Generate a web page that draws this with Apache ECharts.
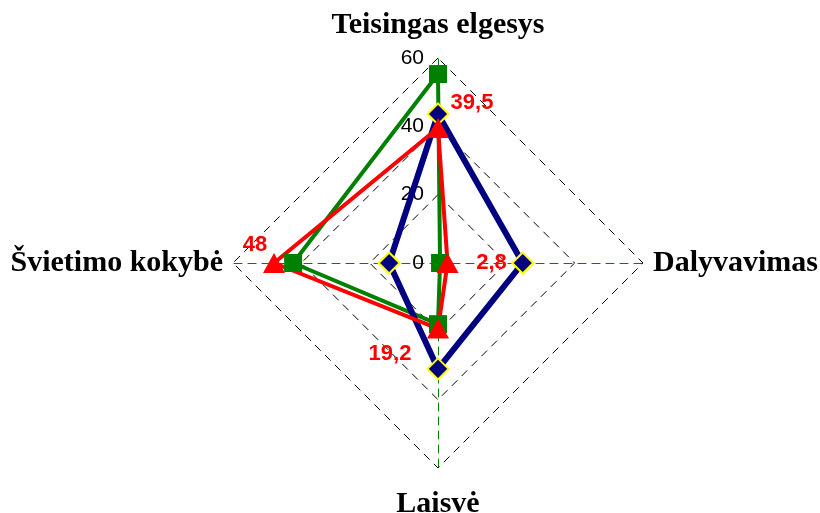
<!DOCTYPE html>
<html>
<head>
<meta charset="utf-8">
<script src="https://cdn.jsdelivr.net/npm/echarts@6/dist/echarts.min.js"></script>
<style>
  html, body { margin: 0; padding: 0; background: #fff; }
  #chart { width: 820px; height: 513px; }
</style>
</head>
<body>
<div id="chart"></div>
<script>
// indicators, listed counterclockwise from the top (ECharts radar order)
const categories = ['Teisingas elgesys', 'Švietimo kokybė', 'Laisvė', 'Dalyvavimas']
const axisMax = 60
const tickStep = 20

const blueValues = [43.6, 14.3, 31, 24.8]
const greenValues = [55.3, 42.4, 17.9, 0.6]
const redValues = [39.5, 48, 19.2, 2.8]

// red labels sit off the marker; padding pushes the text around the anchor
const redLabelPads = [
  [0, 0, 50, 68],   // top
  [0, 38, 36, 0],   // left
  [50, 96, 0, 0],   // bottom
  [0, 0, 0, 88]     // right
]

const chart = echarts.init(document.getElementById('chart'))

const rich = {}
redLabelPads.forEach((p, i) => {
  rich['p' + i] = {
    color: '#ff0000',
    fontFamily: 'Liberation Sans',
    fontWeight: 'bold',
    fontSize: 22,
    padding: p
  }
})

const indicator = categories.map((name, i) => {
  const item = { name, min: 0, max: axisMax }
  if (i === 0) {
    // only the top axis carries the scale
    item.axisLabel = {
      show: true,
      color: '#000',
      fontFamily: 'Liberation Sans',
      fontSize: 21,
      margin: 14
    }
  }
  return item
})

const option = {
  animation: false,
  backgroundColor: '#fff',
  radar: {
    center: [438, 263],
    radius: 205,
    startAngle: 90,
    splitNumber: axisMax / tickStep,
    shape: 'polygon',
    nameGap: 10,
    indicator,
    axisName: {
      color: '#000',
      fontFamily: 'Liberation Serif',
      fontWeight: 'bold',
      fontSize: 30,
      padding: [11, 0, 8, 0]
    },
    axisLine: {
      lineStyle: { color: '#008000', width: 1, type: [8, 6] }
    },
    axisTick: { show: false },
    splitLine: {
      lineStyle: { color: '#000', width: 1, type: [8, 6] }
    },
    splitArea: { show: false }
  },
  series: [
    {
      type: 'radar',
      symbol: 'rect',
      symbolSize: 18,
      lineStyle: { color: '#008000', width: 4 },
      itemStyle: { color: '#008000' },
      data: [{ value: greenValues }]
    },
    {
      type: 'radar',
      symbol: 'diamond',
      symbolSize: 21,
      lineStyle: { color: '#000080', width: 6 },
      itemStyle: { color: '#000080', borderColor: '#ffff00', borderWidth: 2 },
      data: [{ value: blueValues }]
    },
    {
      type: 'radar',
      symbol: 'triangle',
      symbolSize: [22, 20],
      lineStyle: { color: '#ff0000', width: 4 },
      itemStyle: { color: '#ff0000' },
      label: {
        show: true,
        position: 'inside',
        formatter: (p) => {
          const i = redValues.indexOf(p.value)
          return '{p' + i + '|' + String(p.value).replace('.', ',') + '}'
        },
        rich
      },
      data: [{ value: redValues }]
    }
  ]
}

chart.setOption(option)
</script>
</body>
</html>
